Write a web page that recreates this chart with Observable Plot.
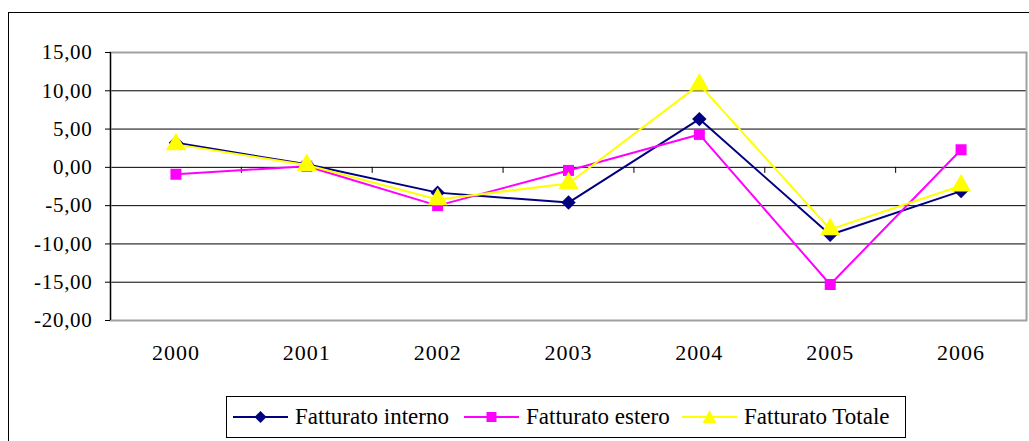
<!DOCTYPE html>
<html>
<head>
<meta charset="utf-8">
<script src="https://cdn.jsdelivr.net/npm/d3@7"></script>
<script src="https://cdn.jsdelivr.net/npm/@observablehq/plot@0.6"></script>
<style>
  html, body { margin: 0; padding: 0; background: #fff; }
  #wrap { position: relative; width: 1029px; height: 441px; overflow: hidden; font-family: 'Liberation Serif'; }
  #outer { position: absolute; left: 8px; top: 12px; width: 1100px; height: 500px; border: 1px solid #000; box-sizing: border-box; }
  #chart { position: absolute; left: 0; top: 0; }
  #chart svg, #chart svg text { font-family: 'Liberation Serif' !important; }
  #chart g[aria-label="y-axis tick label"] { letter-spacing: 0.7px; }
  #chart g[aria-label="x-axis tick label"] { letter-spacing: 1px; }
  #legend { position: absolute; left: 226px; top: 396px; width: 680px; height: 42px; border: 1px solid #000; box-sizing: border-box; background: #fff;
            font-size: 23px; font-family: 'Liberation Serif'; }
  .item { position: absolute; top: 0; height: 40px; display: flex; align-items: center; white-space: nowrap; }
  .item svg { margin-right: 7px; }
</style>
</head>
<body>
<div id="wrap">
  <div id="outer"></div>
  <div id="chart"></div>
  <div id="legend"></div>
</div>
<script>
const years = [2000, 2001, 2002, 2003, 2004, 2005, 2006];
const interno = [3.2, 0.4, -3.3, -4.6, 6.3, -8.8, -3.1];
const estero = [-0.9, 0.15, -5.0, -0.4, 4.3, -15.3, 2.3];
const totale = [3.0, 0.3, -4.2, -2.1, 10.8, -8.1, -2.4];
const seriesNames = ["Fatturato interno", "Fatturato estero", "Fatturato Totale"];
const seriesColors = ["#000080", "#FF00FF", "#FFFF00"];
const seriesSymbols = ["diamond2", "square", "triangle"];
const seriesR = [6.5, 6.2, 7.5];
const yTicks = [-20, -15, -10, -5, 0, 5, 10, 15];

const seriesValues = [interno, estero, totale];
const boundaries = years.slice(1).map(y => y - 0.5);
const xDomain = [years[0] - 0.5, years[years.length - 1] + 0.5];
const fmt = d => d.toFixed(2).replace(".", ",");
const FONT = "Liberation Serif";

const marks = [];
marks.push(Plot.ruleY(yTicks, {stroke: "#000", strokeWidth: 1}));
marks.push(Plot.frame({stroke: "#a0a0a0", strokeWidth: 2}));
marks.push(Plot.ruleX([xDomain[0]], {stroke: "#000", strokeWidth: 1.2}));
marks.push(Plot.ruleX(boundaries, {y1: 0, y2: 0, insetBottom: -6, stroke: "#000", strokeWidth: 1}));
seriesValues.forEach((vals, i) => {
  const data = years.map((y, j) => ({year: y, value: vals[j]}));
  marks.push(Plot.line(data, {x: "year", y: "value", stroke: seriesColors[i], strokeWidth: 2}));
  marks.push(Plot.dot(data, {x: "year", y: "value", symbol: seriesSymbols[i], fill: seriesColors[i], stroke: "none", r: seriesR[i]}));
});
marks.push(Plot.axisY({ticks: yTicks, tickFormat: fmt, tickSize: 5, tickPadding: 13, fontSize: 21, fontFamily: FONT, label: null}));
marks.push(Plot.axisX({ticks: years, tickFormat: d => String(d), tickSize: 0, tickPadding: 24, fontSize: 22, fontFamily: FONT, label: null}));

const chart = Plot.plot({
  width: 1029,
  height: 441,
  marginLeft: 110,
  marginRight: 3,
  marginTop: 52,
  marginBottom: 121,
  style: {fontFamily: FONT, color: "#000", background: "transparent"},
  x: {domain: xDomain, type: "linear"},
  y: {domain: [yTicks[0], yTicks[yTicks.length - 1]]},
  marks
});
document.getElementById("chart").appendChild(chart);

const legend = document.getElementById("legend");
const legendLeft = [6, 237, 455];
const symPaths = {
  diamond2: "M27.5,2 L33.5,8 L27.5,14 L21.5,8 Z",
  square: "M22.5,3 L32.5,3 L32.5,13 L22.5,13 Z",
  triangle: "M27.5,1 L34.5,14 L20.5,14 Z"
};
seriesNames.forEach((name, i) => {
  const item = document.createElement("div");
  item.className = "item";
  item.style.left = legendLeft[i] + "px";
  item.innerHTML = `<svg width="55" height="16" viewBox="0 0 55 16"><line x1="0" y1="8" x2="55" y2="8" stroke="${seriesColors[i]}" stroke-width="2"/><path d="${symPaths[seriesSymbols[i]]}" fill="${seriesColors[i]}"/></svg><span>${name}</span>`;
  legend.appendChild(item);
});
</script>
</body>
</html>
